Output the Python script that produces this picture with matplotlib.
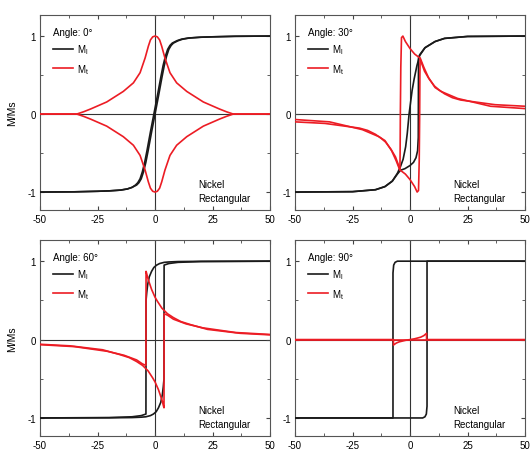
import matplotlib
matplotlib.use("Agg")
import matplotlib.pyplot as plt
from matplotlib.lines import Line2D
from matplotlib.ticker import MultipleLocator

plt.rcParams['font.family'] = ['Liberation Sans', 'DejaVu Sans']
plt.rcParams['axes.unicode_minus'] = False

# field sweep branches: "dn" = field going +50 -> -50, "up" = -50 -> +50
# 0 deg
h0_dn = [50, 35, 25, 20, 15, 12, 10, 8, 7, 6, 5, 4, 3, 1.5, 0, -1.5, -3, -4, -5, -6, -7, -8, -10, -12, -15, -20, -25, -35, -50]
ml0_dn = [1, 0.997, 0.99, 0.985, 0.975, 0.96, 0.94, 0.91, 0.88, 0.83, 0.74, 0.62, 0.47, 0.23, 0, -0.23, -0.47, -0.62, -0.74, -0.83, -0.88, -0.91, -0.94, -0.96, -0.975, -0.985, -0.99, -0.997, -1]
h0_up = [-50, -35, -25, -20, -15, -12, -10, -8.5, -7.5, -6.5, -5.5, -4.5, -3.5, -2, -0.5, 1, 2.5, 3.5, 4.5, 5.5, 6.5, 7.5, 9.5, 11.5, 14.5, 19.5, 24.5, 34.5, 50]
ml0_up = [-1, -0.997, -0.99, -0.985, -0.975, -0.96, -0.94, -0.91, -0.88, -0.83, -0.74, -0.62, -0.47, -0.23, 0, 0.23, 0.47, 0.62, 0.74, 0.83, 0.88, 0.91, 0.94, 0.96, 0.975, 0.985, 0.99, 0.997, 1]
h0_t = [-50, -34, -31, -28, -21, -13.8, -9.4, -6.5, -4.3, -2.9, -2, -1, 0, 1, 2, 2.9, 4.3, 6.5, 9.4, 13.8, 21, 28, 31, 34, 50]
mt0_up = [0, 0, 0.03, 0.065, 0.155, 0.29, 0.4, 0.53, 0.72, 0.87, 0.95, 0.99, 1.0, 0.99, 0.95, 0.87, 0.72, 0.53, 0.4, 0.29, 0.155, 0.065, 0.03, 0, 0]
mt0_dn = [0, 0, -0.03, -0.065, -0.155, -0.29, -0.4, -0.53, -0.72, -0.87, -0.95, -0.99, -1.0, -0.99, -0.95, -0.87, -0.72, -0.53, -0.4, -0.29, -0.155, -0.065, -0.03, 0, 0]

# 30 deg
h30_dn = [50, 25, 15, 10.9, 6.5, 4.2, 3.0, 1.8, 0.9, -0.4, -1.2, -1.9, -3, -4.1, -5.5, -7.7, -10.9, -15, -25, -50]
ml30_dn = [1, 0.995, 0.97, 0.93, 0.85, 0.75, 0.62, 0.45, 0.3, 0, -0.25, -0.42, -0.58, -0.67, -0.76, -0.86, -0.93, -0.97, -0.995, -1]
h30_up = [-50, -25, -15, -10.9, -7.7, -5.5, -4.1, -2.2, 0, 1.5, 2.6, 3.3, 3.6, 3.7, 4.2, 6.5, 10.9, 15, 25, 50]
ml30_up = [-1, -0.995, -0.97, -0.93, -0.86, -0.77, -0.72, -0.7, -0.66, -0.62, -0.56, -0.47, -0.3, 0.72, 0.76, 0.85, 0.93, 0.97, 0.995, 1]
h30t_dn = [50, 37, 27, 22, 18.4, 15, 12.6, 10.6, 8.3, 6.3, 4.2, 2, 0, -2, -3.1, -3.7, -4.0, -4.2, -4.3, -4.4, -6, -8, -10.9, -13.5, -20.7, -35, -50]
mt30_dn = [0.1, 0.12, 0.16, 0.18, 0.21, 0.26, 0.31, 0.36, 0.45, 0.55, 0.72, 0.77, 0.84, 0.93, 1.0, 0.98, 0.6, 0.0, -0.5, -0.72, -0.6, -0.47, -0.34, -0.29, -0.2, -0.1, -0.07]
h30t_up = [-50, -37, -27, -22, -18.4, -15, -12.6, -10.6, -8.3, -6.3, -4.2, -2, 0, 2, 3.1, 3.7, 4.0, 4.2, 4.3, 4.4, 6, 8, 10.9, 13.5, 20.7, 35, 50]
mt30_up = [-0.1, -0.12, -0.16, -0.18, -0.21, -0.26, -0.31, -0.36, -0.45, -0.55, -0.72, -0.77, -0.84, -0.93, -1.0, -0.98, -0.6, 0.0, 0.5, 0.72, 0.6, 0.47, 0.34, 0.29, 0.2, 0.1, 0.07]

# 60 deg
h60_dn = [50, 20, 10, 6, 4, 2, 0.7, -0.5, -1.5, -2.5, -3.2, -3.6, -3.9, -3.95, -6, -10, -20, -50]
ml60_dn = [1, 0.998, 0.995, 0.99, 0.985, 0.97, 0.95, 0.92, 0.87, 0.8, 0.7, 0.6, 0.5, -0.95, -0.97, -0.985, -0.995, -1]
h60_up = [-50, -20, -10, -6, -4, -2, -0.7, 0.5, 1.5, 2.5, 3.2, 3.6, 3.9, 3.95, 6, 10, 20, 50]
ml60_up = [-1, -0.998, -0.995, -0.99, -0.985, -0.97, -0.95, -0.92, -0.87, -0.8, -0.7, -0.6, -0.5, 0.95, 0.97, 0.985, 0.995, 1]
h60t_dn = [50, 37, 22.8, 15.5, 11.2, 8, 5.4, 3, 1, 0, -1.5, -3, -3.7, -3.9, -3.95, -5.5, -8, -13.5, -20.7, -35, -50]
mt60_dn = [0.06, 0.08, 0.13, 0.19, 0.23, 0.28, 0.33, 0.4, 0.49, 0.54, 0.64, 0.77, 0.85, 0.87, -0.33, -0.31, -0.26, -0.2, -0.15, -0.09, -0.065]
h60t_up = [-50, -37, -22.8, -15.5, -11.2, -8, -5.4, -3, -1, 0, 1.5, 3, 3.7, 3.9, 3.95, 5.5, 8, 13.5, 20.7, 35, 50]
mt60_up = [-0.06, -0.08, -0.13, -0.19, -0.23, -0.28, -0.33, -0.4, -0.49, -0.54, -0.64, -0.77, -0.85, -0.87, 0.33, 0.31, 0.26, 0.2, 0.15, 0.09, 0.065]

# 90 deg
h90_dn = [50, -5.5, -6.5, -7.1, -7.4, -7.4, -50]
ml90_dn = [1, 1, 0.985, 0.95, 0.85, -1, -1]
h90_up = [-50, 5.5, 6.5, 7.1, 7.4, 7.4, 50]
ml90_up = [-1, -1, -0.985, -0.95, -0.85, 1, 1]
h90t_dn = [50, -50]
mt90_dn = [0, 0]
h90t_up = [-50, -7.2, -7.2, -6, -4.8, -2, 0, 2, 4.6, 6, 7.2, 7.2, 50]
mt90_up = [0, 0, -0.07, -0.045, -0.03, -0.01, 0, 0.01, 0.03, 0.05, 0.08, 0, 0]

angles = [0, 30, 60, 90]
long_branches = [(h0_dn, ml0_dn, h0_up, ml0_up), (h30_dn, ml30_dn, h30_up, ml30_up),
                 (h60_dn, ml60_dn, h60_up, ml60_up), (h90_dn, ml90_dn, h90_up, ml90_up)]
trans_branches = [(h0_t, mt0_dn, h0_t, mt0_up), (h30t_dn, mt30_dn, h30t_up, mt30_up),
                  (h60t_dn, mt60_dn, h60t_up, mt60_up), (h90t_dn, mt90_dn, h90t_up, mt90_up)]

black = '#1a1a1a'
red = '#ec1c24'

fig = plt.figure(figsize=(5.30, 4.52), dpi=100)
boxes = [[0.0755, 0.5332, 0.434, 0.4314], [0.5566, 0.5332, 0.434, 0.4314],
         [0.0755, 0.0332, 0.434, 0.4336], [0.5566, 0.0332, 0.434, 0.4336]]

for i, ang in enumerate(angles):
    ax = fig.add_axes(boxes[i])
    ax.axhline(0, color='#333333', lw=0.8, zorder=1)
    ax.axvline(0, color='#333333', lw=0.8, zorder=1)
    hd, md, hu, mu = long_branches[i]
    ax.plot(hd, md, color=black, lw=1.2, zorder=3)
    ax.plot(hu, mu, color=black, lw=1.2, zorder=3)
    hd, md, hu, mu = trans_branches[i]
    ax.plot(hd, md, color=red, lw=1.2, zorder=4)
    ax.plot(hu, mu, color=red, lw=1.2, zorder=4)

    ax.set_xlim(-50, 50)
    ax.set_ylim(-1.23, 1.27)
    ax.xaxis.set_major_locator(MultipleLocator(25))
    ax.xaxis.set_minor_locator(MultipleLocator(12.5))
    ax.yaxis.set_major_locator(MultipleLocator(1))
    ax.yaxis.set_minor_locator(MultipleLocator(0.5))
    ax.tick_params(which='both', direction='in', top=True, right=True,
                   labelsize=7, color='#444444', pad=3)
    ax.tick_params(which='major', length=3)
    ax.tick_params(which='minor', length=2)
    for sp in ax.spines.values():
        sp.set_color('#555555')
        sp.set_linewidth(0.8)
    if i % 2 == 0:
        ax.set_ylabel('M/Ms', fontsize=7.5, labelpad=7)

    handles = [Line2D([], [], color=black, lw=1.2), Line2D([], [], color=red, lw=1.2)]
    ax.legend(handles, ['M$_\\mathregular{l}$', 'M$_\\mathregular{t}$'],
              title='Angle: %d°' % ang, loc='upper left',
              bbox_to_anchor=(0.026, 0.972), frameon=False,
              fontsize=7, title_fontsize=7, handlelength=2.1,
              handletextpad=0.4, labelspacing=0.55, borderaxespad=0.3,
              alignment='left')
    ax.text(0.69, 0.035, 'Nickel\nRectangular', transform=ax.transAxes,
            fontsize=7, ha='left', va='bottom', linespacing=1.5)

fig.savefig('out.png', dpi=100)
